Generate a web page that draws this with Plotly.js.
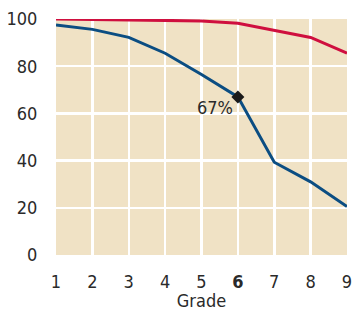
<!DOCTYPE html>
<html><head><meta charset="utf-8">
<script src="https://cdn.plot.ly/plotly-3.0.1.min.js"></script>
<style>html,body{margin:0;padding:0;background:#fff}</style>
</head><body><div id="chart" style="width:362px;height:311px"></div>
<script>
const grades = [1,2,3,4,5,6,7,8,9];
const tickLabels = ['1','2','3','4','5','<b>6</b>','7','8','9'];
const redSeries = [100,99.8,99.5,99.4,99.2,98.2,95.3,92.2,85.5];
const blueSeries = [97.5,95.6,92.2,85.5,76.5,67,39.3,31,20.5];
const highlightGrade = 6;
const highlightValue = 67;
const highlightLabel = '67%';
const yTicks = [0,20,40,60,80,100];

const font = {family:'"Liberation Sans Narrow","DejaVu Sans Condensed",sans-serif', size:18, color:'#2a2a2a'};
const data = [
  {x:grades, y:redSeries, mode:'lines', line:{color:'#cf0f3f', width:3}, hoverinfo:'skip'},
  {x:grades, y:blueSeries, mode:'lines', line:{color:'#0b4d82', width:3}, hoverinfo:'skip'},
  {x:[highlightGrade], y:[highlightValue], mode:'markers', marker:{symbol:'diamond', size:10, color:'#1a1a1a'}, hoverinfo:'skip'}
];
const layout = {
  width:362, height:311,
  margin:{l:56, r:15, t:19, b:56},
  paper_bgcolor:'#fff', plot_bgcolor:'#f0e2c5',
  showlegend:false, font:font,
  xaxis:{range:[1,9], tickvals:grades, ticktext:tickLabels, showgrid:true, gridcolor:'#fff', gridwidth:2.5,
    zeroline:false, showline:false, ticks:'outside', ticklen:10, tickcolor:'rgba(0,0,0,0)',
    tickfont:font, title:{text:'Grade', font:font, standoff:7}},
  yaxis:{range:[0,100], tickvals:yTicks, showgrid:true, gridcolor:'#fff', gridwidth:2.5,
    zeroline:false, showline:false, ticks:'outside', ticklen:14, tickcolor:'rgba(0,0,0,0)', tickfont:font},
  annotations:[{x:highlightGrade, y:highlightValue, text:highlightLabel, showarrow:false, xanchor:'right', yanchor:'middle', xshift:-3, yshift:-11, font:font}]
};
Plotly.newPlot('chart', data, layout, {displayModeBar:false, staticPlot:true});
</script></body></html>
